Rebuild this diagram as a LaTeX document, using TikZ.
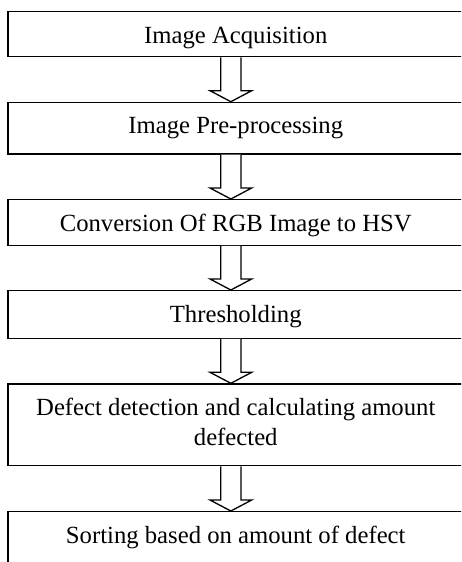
\documentclass[tikz,border=0pt]{standalone}
\usepackage{fontspec}
\setmainfont{Liberation Serif}
\tikzset{
  box/.style={draw=black, line width=1.3pt, fill=white, inner xsep=2pt, inner ysep=0pt,
    minimum width=455.5pt, anchor=north, align=center,
    font=\fontsize{24.7pt}{30pt}\selectfont, text height=31.5pt},
  arr/.style={draw=black, line width=1.3pt, fill=white, line join=miter}
}
\newcommand\flowarrow[2]{%
  \draw[arr] ([xshift=-15.05pt]#1.south) -- ([xshift=-15.05pt,yshift=11pt]#2.north)
    -- ([xshift=-25.75pt,yshift=11pt]#2.north) -- ([xshift=-4.9pt]#2.north)
    -- ([xshift=15.95pt,yshift=11pt]#2.north) -- ([xshift=5.25pt,yshift=11pt]#2.north)
    -- ([xshift=5.25pt]#1.south);}
\begin{document}
\begin{tikzpicture}[x=1pt,y=1pt]
\useasboundingbox (0,0) rectangle (461,-562);
\clip (0,0) rectangle (461,-562);
\node[box, text depth=13.5pt] (b1) at (235.75,-11) {Image Acquisition};
\node[box, text depth=20.1pt] (b2) at (235.75,-101.7) {Image Pre-processing};
\node[box, text depth=14pt] (b3) at (235.75,-199) {Conversion Of RGB Image to HSV};
\node[box, text depth=16pt] (b4) at (235.75,-290) {Thresholding};
\node[box, text height=61.5pt, text depth=20.2pt] (b5) at (235.75,-383.3) {Defect detection and calculating amount\\defected};
\node[box, text depth=30pt] (b6) at (235.75,-511) {Sorting based on amount of defect};
\flowarrow{b1}{b2}
\flowarrow{b2}{b3}
\flowarrow{b3}{b4}
\flowarrow{b4}{b5}
\flowarrow{b5}{b6}
\end{tikzpicture}
\end{document}
